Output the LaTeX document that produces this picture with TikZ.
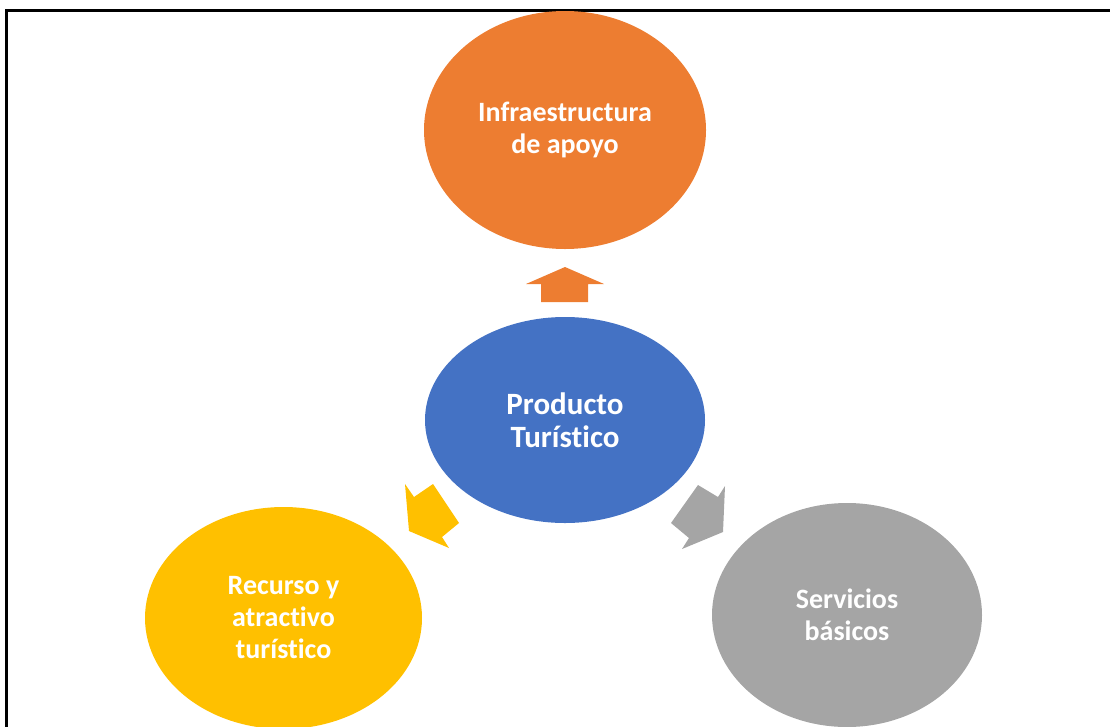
\documentclass[tikz,border=0pt]{standalone}
\usepackage{fontspec}
\setmainfont{Carlito}[Ligatures={NoCommon}]
\usetikzlibrary{shapes.geometric}
\definecolor{orangeA}{HTML}{ED7D31}
\definecolor{blueA}{HTML}{4472C4}
\definecolor{yellowA}{HTML}{FFC000}
\definecolor{greyA}{HTML}{A5A5A5}
\tikzset{
  blob/.style={ellipse, inner sep=0pt, text=white, align=center,
    font=\fontsize{28}{32}\selectfont\bfseries},
  frameline/.style={line width=3pt, black}
}
\begin{document}
\begin{tikzpicture}[x=1pt, y=-1pt]
\useasboundingbox (0,0) rectangle (1110,726);
% frame
\draw[frameline] (6.5,740) -- (6.5,10) -- (1120,10);
% ellipses
\node[blob, fill=orangeA, minimum width=282pt, minimum height=238pt] (infra) at (565,130) {Infraestructura\\de apoyo};
\node[blob, fill=blueA, minimum width=280pt, minimum height=206pt, font=\fontsize{31}{33}\selectfont\bfseries] (prod) at (565,420) {Producto\\Turístico};
\node[blob, fill=yellowA, minimum width=277pt, minimum height=222pt] (recurso) at (283.5,618) {Recurso y\\atractivo\\turístico};
\node[blob, fill=greyA, minimum width=270pt, minimum height=224pt] (serv) at (847,615) {Servicios\\básicos};
% arrows
\fill[orangeA] (565,267) -- (604,284) -- (588,284) -- (588,302) -- (541,302) -- (541,284) -- (526,284) -- cycle;
\fill[yellowA] (409,531) -- (449,548) -- (442,537) -- (459,523) -- (433,484) -- (414,497) -- (405,484) -- cycle;
\fill[greyA] (723,532) -- (725,486) -- (718,497) -- (698,485) -- (671,523) -- (689,538) -- (682,549) -- cycle;
\end{tikzpicture}
\end{document}
